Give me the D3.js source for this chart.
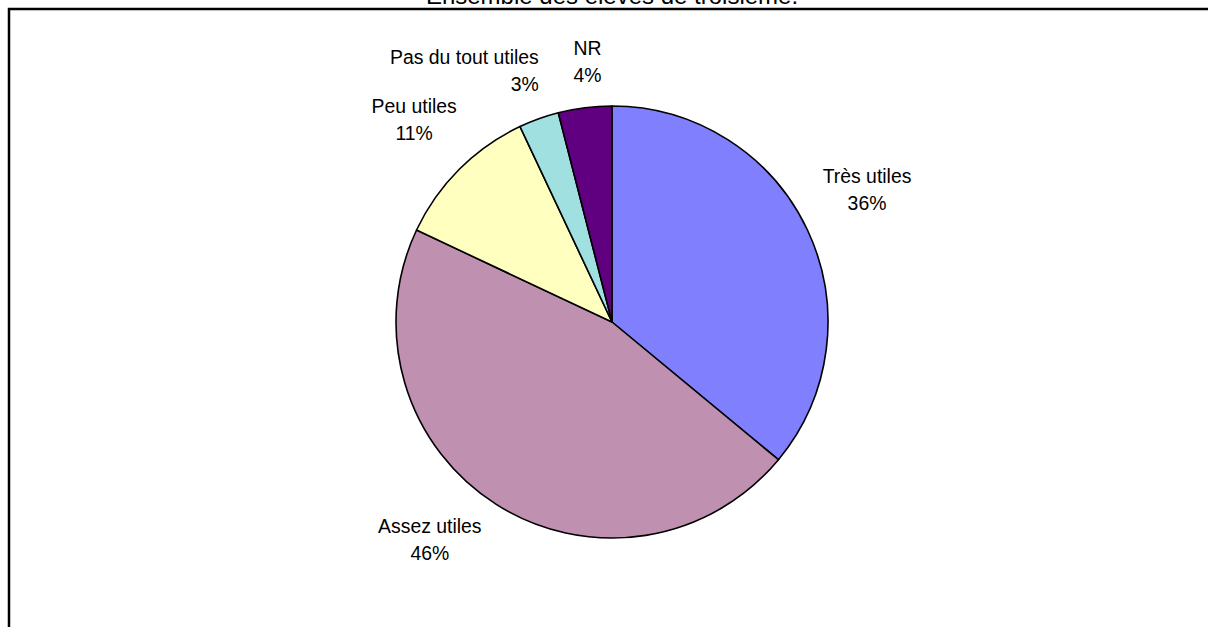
<!DOCTYPE html>
<html>
<head>
<meta charset="utf-8">
<script src="https://cdn.jsdelivr.net/npm/d3@7"></script>
<style>
  html, body { margin: 0; padding: 0; background: #fff; }
  svg { display: block; font-family: Arial, "Liberation Sans", sans-serif; }
</style>
</head>
<body>
<div id="chart"></div>
<script>
// Data
const categories = ["Très utiles", "Assez utiles", "Peu utiles", "Pas du tout utiles", "NR"];
const values = [36, 46, 11, 3, 4];
const colors = ["#8080FF", "#C090B0", "#FFFFC0", "#A0E0E0", "#600080"];
const title = "Ensemble des élèves de troisième.";

const width = 1208, height = 627;
const cx = 612, cy = 322, radius = 216;

// small hand nudges so labels sit where Excel put them
const labelNudge = {
    "Très utiles": [-2, -11, "middle"],
    "Assez utiles": [-30, -22, "middle"],
    "Peu utiles": [3, -1, "middle"],
    "Pas du tout utiles": [23, 16, "end"],
    "NR": [11, 22, "middle"]
};

const svg = d3.select("#chart").append("svg")
    .attr("width", width)
    .attr("height", height);

// title, mostly clipped off the top
svg.append("text")
    .attr("x", cx)
    .attr("y", 4)
    .attr("text-anchor", "middle")
    .attr("font-size", "24px")
    .attr("fill", "#000")
    .text(title);

// chart area border (only top and left are in view)
svg.append("path")
    .attr("d", `M9,${height} V9 H${width}`)
    .attr("fill", "none")
    .attr("stroke", "#000")
    .attr("stroke-width", 2.5);

const data = categories.map((c, i) => ({ name: c, value: values[i], color: colors[i] }));

const pie = d3.pie()
    .value(d => d.value)
    .sort(null);

const arcs = pie(data);

const arc = d3.arc()
    .innerRadius(0)
    .outerRadius(radius);

const labelArc = d3.arc()
    .innerRadius(radius * 1.315)
    .outerRadius(radius * 1.315);

const g = svg.append("g")
    .attr("transform", `translate(${cx},${cy})`);

g.selectAll("path.slice")
    .data(arcs)
    .join("path")
    .attr("class", "slice")
    .attr("d", arc)
    .attr("fill", d => d.data.color)
    .attr("stroke", "#000")
    .attr("stroke-width", 1.6)
    .attr("stroke-linejoin", "round");

const fmt = d3.format(".0%");
const total = d3.sum(values);

const labels = g.selectAll("text.lbl")
    .data(arcs)
    .join("text")
    .attr("class", "lbl")
    .attr("font-size", "19.4px")
    .attr("fill", "#000")
    .attr("text-anchor", d => labelNudge[d.data.name][2])
    .attr("transform", d => {
        const [x, y] = labelArc.centroid(d);
        const n = labelNudge[d.data.name];
        return `translate(${x + n[0]},${y + n[1]})`;
    });

labels.append("tspan")
    .attr("x", 0)
    .attr("dy", "-0.35em")
    .text(d => d.data.name);

labels.append("tspan")
    .attr("x", 0)
    .attr("dy", 27)
    .text(d => fmt(d.data.value / total));
</script>
</body>
</html>
